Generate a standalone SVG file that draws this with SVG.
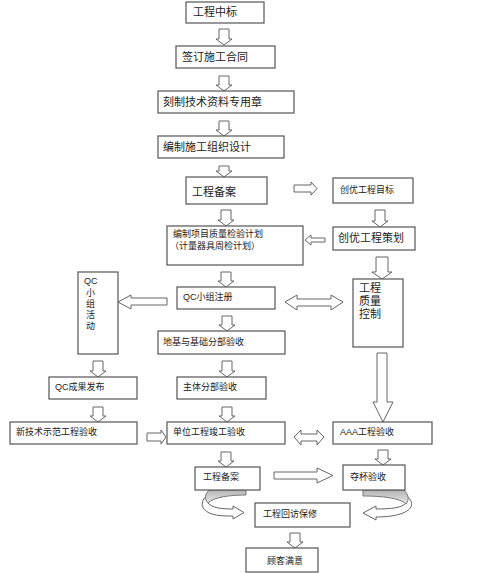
<svg xmlns="http://www.w3.org/2000/svg" width="500" height="573" viewBox="0 0 500 573">
<defs>
<linearGradient id="band" x1="0" y1="0" x2="0" y2="1">
<stop offset="0" stop-color="#b4b4b4"/>
<stop offset="1" stop-color="#e6e6e6"/>
</linearGradient>
<style>
.box{fill:#fff;stroke:#555;stroke-width:1.2}
.t{font-family:"Liberation Sans","Noto Sans CJK SC",sans-serif;fill:#222}
.L{font-size:11px}
.S{font-size:9px}
.ar{fill:#fff;stroke:#666;stroke-width:1;stroke-linejoin:miter}
.bd{fill:url(#band);stroke:#777;stroke-width:1}
</style>
</defs>
<rect width="500" height="573" fill="#fff"/>

<g id="connectors">
<path class="ar" d="M219,29 H229 V39 H232 L224,45 L216,39 H219 Z"/>
<path class="ar" d="M219,76 H229 V85 H232 L224,91 L216,85 H219 Z"/>
<path class="ar" d="M219,121 H229 V130 H232 L224,136 L216,130 H219 Z"/>
<path class="ar" d="M219,166 H229 V171 H232 L224,177 L216,171 H219 Z"/>
<path class="ar" d="M221,210 H231 V220 H234 L226,226 L218,220 H221 Z"/>
<path class="ar" d="M375,210 H385 V221 H388 L380,227 L372,221 H375 Z"/>
<path class="ar" d="M376,257 H388 V272 H392 L382,279 L372,272 H376 Z"/>
<path class="ar" d="M221,272 H231 V281 H234 L226,287 L218,281 H221 Z"/>
<path class="ar" d="M222,316 H232 V325 H235 L227,331 L219,325 H222 Z"/>
<path class="ar" d="M222,361 H232 V371 H235 L227,377 L219,371 H222 Z"/>
<path class="ar" d="M222,407 H232 V416 H235 L227,422 L219,416 H222 Z"/>
<path class="ar" d="M93,361 H103 V371 H106 L98,377 L90,371 H93 Z"/>
<path class="ar" d="M93,407 H103 V416 H106 L98,422 L90,416 H93 Z"/>
<path class="ar" d="M221,452 H231 V461 H234 L226,467 L218,461 H221 Z"/>
<path class="ar" d="M378,450 H388 V459 H391 L383,465 L375,459 H378 Z"/>
<path class="ar" d="M290,533 H300 V542 H303 L295,548 L287,542 H290 Z"/>
<path class="ar" d="M377,353 H387 V402 H393 L383,422 L373,402 H377 Z"/>
<path class="ar" d="M294,185 H311 V182 L317,188.5 L311,195 V192 H294 Z"/>
<path class="ar" d="M147,433 H161 V430 L166,437 L161,444 V441 H147 Z"/>
<path class="ar" d="M274,472 H317 V468 L333,475.5 L317,483 V479 H274 Z"/>
<path class="ar" d="M325,238 H311 V235 L305,240 L311,245 V242 H325 Z"/>
<path class="ar" d="M167,298 H131 V295 L118,302 L131,309 V305 H167 Z"/>
<path class="ar" d="M285,302 L297,295 V299 H331 V295 L343,302 L331,310 V306 H297 V310 Z"/>
<path class="ar" d="M294,437 L301,430 V434 H317 V430 L324,437 L317,445 V441 H301 V445 Z"/>
<path class="ar" d="M207,495 C200,502 200,510 212,514 C218,516 225,516 233,516 L233,519 L244,512.5 L233,506 L233,509 C222,509 212,508 208,503 Z"/>
<path class="bd" d="M246,490 V495 C230,495 214,497 208,503 C204,499 205,494 209,490 Z"/>
<path class="ar" d="M407,496 C414,502 414,510 400,514 C394,516 386,517 376,517 L376,520 L363,513 L376,506 L376,509 C390,509 402,508 406,503 Z"/>
<path class="bd" d="M363,490 V496 C382,496 400,498 406,504 C410,499 408,494 404,490 Z"/>
</g>

<g id="n1"><rect class="box" x="186" y="2" width="78" height="21"/><text class="t L" x="193" y="16">工程中标</text></g>
<g id="n2"><rect class="box" x="176" y="46" width="99" height="22"/><text class="t L" x="182" y="61">签订施工合同</text></g>
<g id="n3"><rect class="box" x="158" y="91" width="136" height="22"/><text class="t L" x="163" y="106">刻制技术资料专用章</text></g>
<g id="n4"><rect class="box" x="158" y="136" width="126" height="22"/><text class="t L" x="163" y="151">编制施工组织设计</text></g>
<g id="n5"><rect class="box" x="186" y="177" width="81" height="27"/><text class="t L" x="192" y="196">工程备案</text></g>
<g id="n6"><rect class="box" x="333" y="178" width="80" height="25"/><text class="t S" x="340" y="193">创优工程目标</text></g>
<g id="n7"><rect class="box" x="167" y="226" width="136" height="39"/><text class="t S" x="173" y="237">编制项目质量检验计划</text><text class="t S" x="170" y="249">（计量器具周检计划）</text></g>
<g id="n8"><rect class="box" x="333" y="227" width="82" height="23"/><text class="t L" x="338" y="242">创优工程策划</text></g>
<g id="n9"><rect class="box" x="353" y="279" width="50" height="68"/><text class="t L" x="359" y="292">工程</text><text class="t L" x="359" y="305">质量</text><text class="t L" x="359" y="318">控制</text></g>
<g id="n10"><rect class="box" x="177" y="287" width="98" height="22"/><text class="t S" x="183" y="300">QC小组注册</text></g>
<g id="n11"><rect class="box" x="78" y="272" width="40" height="82"/><text class="t S" x="84" y="284">QC</text><text class="t S" x="86" y="296">小</text><text class="t S" x="86" y="307">组</text><text class="t S" x="86" y="318">活</text><text class="t S" x="86" y="329">动</text></g>
<g id="n12"><rect class="box" x="158" y="331" width="127" height="23"/><text class="t S" x="163" y="345">地基与基础分部验收</text></g>
<g id="n13"><rect class="box" x="177" y="377" width="89" height="22"/><text class="t S" x="183" y="390">主体分部验收</text></g>
<g id="n14"><rect class="box" x="49" y="377" width="88" height="22"/><text class="t S" x="55" y="390">QC成果发布</text></g>
<g id="n15"><rect class="box" x="10" y="422" width="127" height="22"/><text class="t S" x="16" y="435">新技术示范工程验收</text></g>
<g id="n16"><rect class="box" x="167" y="422" width="118" height="22"/><text class="t S" x="173" y="435">单位工程竣工验收</text></g>
<g id="n17"><rect class="box" x="333" y="422" width="99" height="22"/><text class="t S" x="340" y="435">AAA工程验收</text></g>
<g id="n18"><rect class="box" x="195" y="467" width="65" height="23"/><text class="t S" x="203" y="480">工程备案</text></g>
<g id="n19"><rect class="box" x="343" y="465" width="62" height="25"/><text class="t S" x="350" y="480">夺杯验收</text></g>
<g id="n20"><rect class="box" x="255" y="503" width="95" height="24"/><text class="t S" x="263" y="517">工程回访保修</text></g>
<g id="n21"><rect class="box" x="246" y="548" width="72" height="24"/><text class="t S" x="267" y="564">顾客满意</text></g>
</svg>
